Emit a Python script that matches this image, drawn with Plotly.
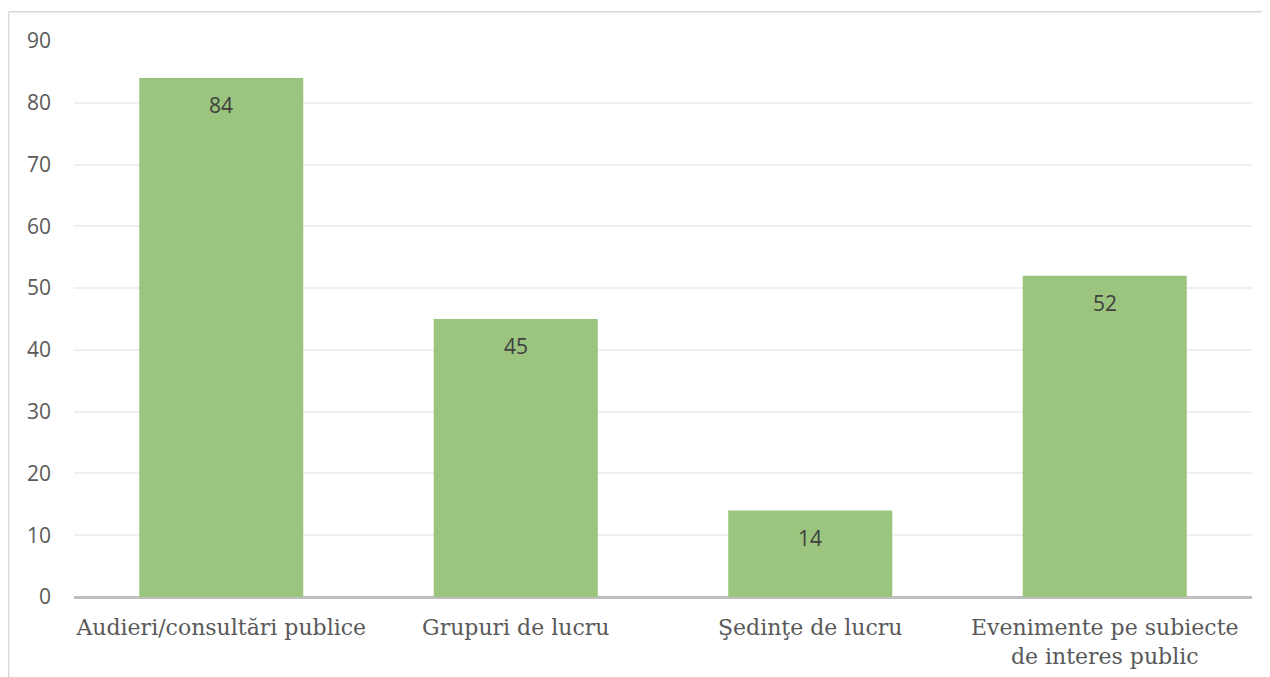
import plotly.graph_objects as go

categories = ["Audieri/consultări publice", "Grupuri de lucru", "Şedinţe de lucru",
              "Evenimente pe subiecte<br>de interes public"]
values = [84, 45, 14, 52]
y_ticks = [0, 10, 20, 30, 40, 50, 60, 70, 80, 90]

fig = go.Figure(go.Bar(
    x=categories, y=values,
    marker=dict(color="#9BC47E", line=dict(width=0)),
    hoverinfo="x+y",
))

# data labels inside the top of each bar
for c, v in zip(categories, values):
    fig.add_annotation(x=c, y=v, text=str(v), showarrow=False, yshift=-27,
                       font=dict(family="Open Sans, sans-serif", size=21, color="#404040"))

fig.update_layout(
    width=1262, height=669,
    margin=dict(l=66, r=18, t=33, b=80),
    paper_bgcolor="white", plot_bgcolor="white",
    bargap=0.443, showlegend=False,
    xaxis=dict(
        tickfont=dict(family="DejaVu Serif, serif", size=22, color="#595959"),
        showgrid=False, showline=False, ticks="", ticklabelstandoff=15,
        automargin=False,
    ),
    yaxis=dict(
        range=[0, 90], tickvals=y_ticks,
        tickfont=dict(family="Open Sans, sans-serif", size=21, color="#595959"),
        showgrid=True, gridcolor="#EFEFEF", gridwidth=1.5,
        zeroline=True, zerolinecolor="#BFBFBF", zerolinewidth=2.5,
        showline=False, ticks="", ticklabelstandoff=22, automargin=False,
    ),
    shapes=[
        dict(type="line", xref="paper", yref="paper", x0=-0.0555, x1=1.05, y0=1.0525, y1=1.0525,
             line=dict(color="#D9D9D9", width=1.5)),
        dict(type="line", xref="paper", yref="paper", x0=-0.0555, x1=-0.0555, y0=1.0525, y1=-0.2,
             line=dict(color="#D9D9D9", width=1.5)),
    ],
)

fig.write_html("out.html")
